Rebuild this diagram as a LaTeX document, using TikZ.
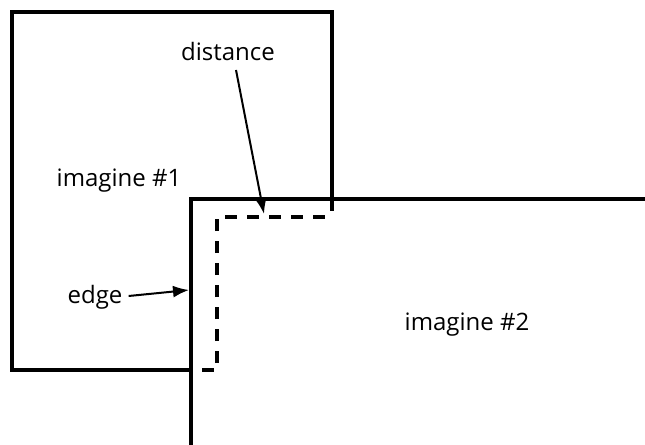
\documentclass[tikz,border=0pt]{standalone}
\usepackage{fontspec}
\setmainfont{Open Sans}
\usetikzlibrary{arrows.meta}
\begin{document}
\begin{tikzpicture}[x=0.75pt,y=-0.75pt,
  solid line/.style={line width=2.5pt,line cap=rect},
  dash line/.style={line width=2.5pt,dash pattern=on 9pt off 7.5pt},
  pointer/.style={line width=1.5pt,-{Latex[length=12pt,width=9pt]}},
  lbl/.style={font=\fontsize{18}{22}\selectfont,inner sep=0pt}]
\useasboundingbox (0,0) rectangle (645,445);
% image 1
\draw[solid line] (191,370) -- (12,370) -- (12,12) -- (332,12) -- (332,209);
% image 2
\draw[solid line] (191,445) -- (191,199) -- (645,199);
% distance (dashed)
\draw[dash line] (202,370) -- (217,370) -- (217,217) -- (332,217);
% labels
\node[lbl] (dist) at (228,52) {distance};
\node[lbl] (im1) at (119,181) {imagine \#1};
\node[lbl] (im2) at (467,325) {imagine \#2};
\node[lbl] (edge) at (95,297) {edge};
\coordinate (dtip) at (264,214);
\coordinate (etip) at (189,290);
\draw[pointer] (236,70) -- (dtip);
\draw[pointer] (edge.east) ++(6,-1) -- (etip);
\end{tikzpicture}
\end{document}
